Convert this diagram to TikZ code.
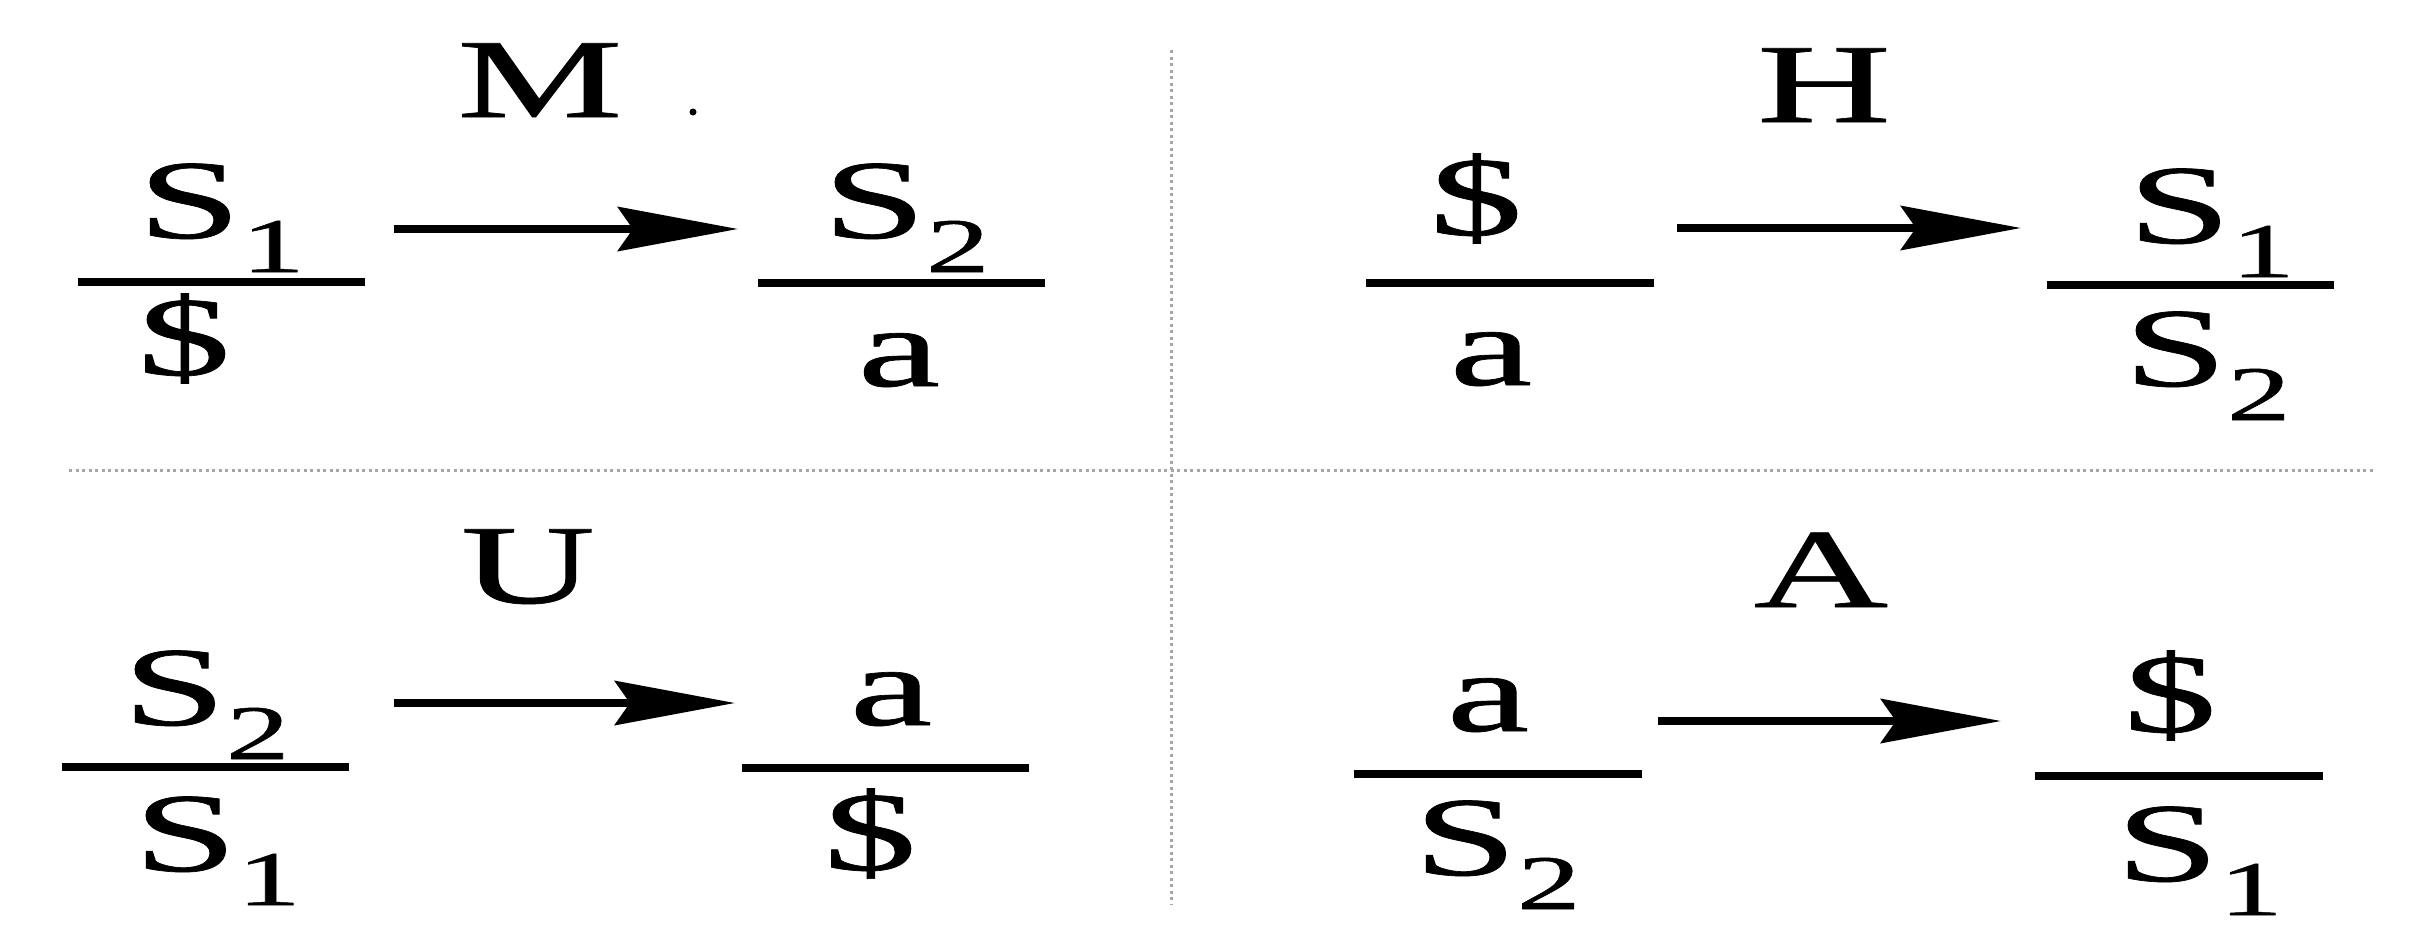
\documentclass[tikz,border=0pt]{standalone}
\usepackage{fontspec}
\setmainfont{Liberation Serif}[FakeBold=0.6]
\usetikzlibrary{arrows.meta}
\newcommand{\stx}[1]{\scalebox{1.65}[1]{#1}}
\newcommand{\subx}[1]{\raisebox{-0.34cm}{\fontsize{22}{22}\selectfont #1}}
\tikzset{
  txt/.style={inner sep=0, anchor=base, font=\fontsize{32}{32}\selectfont},
  stxt/.style={inner sep=0, anchor=base west, font=\fontsize{32}{32}\selectfont},
  barnode/.style={fill=black, inner sep=0, minimum height=0.085cm, minimum width=2.87cm},
  arr/.style={line width=0.08cm, -{Stealth[length=1.2cm, width=0.44cm, inset=0.15cm]}},
  sepline/.style={draw=gray!70, line width=0.03cm, densely dotted},
}
\begin{document}
\begin{tikzpicture}[x=0.01cm, y=-0.01cm]
\useasboundingbox[fill=white] (0,0) rectangle (2418,939);
% separators
\coordinate (vt) at (1171,50);
\coordinate (vb) at (1171,905);
\coordinate (hl) at (69,470);
\coordinate (hr) at (2375,470);
\draw[sepline] (vt) -- (vb);
\draw[sepline] (hl) -- (hr);

% ---- M ----
\node[txt] (M) at (540,117) {\stx{M}};
\node[circle, fill=black, inner sep=0, minimum size=0.07cm] (dot) at (693,112) {};
\node[stxt] (m1n) at (137,238) {\stx{S\subx{1}}};
\node[barnode] (m1b) at (221.5,282) {};
\node[txt] (m1d) at (184,375) {\stx{\$}};
\node[stxt] (m2n) at (822,238) {\stx{S\subx{2}}};
\node[barnode] (m2b) at (901.5,283) {};
\node[txt] (m2d) at (899,386) {\stx{a}};
\coordinate (ms) at (394,229);
\coordinate (me) at (738,229);
\draw[arr] (ms) -- (me);

% ---- H ----
\node[txt] (H) at (1824,122) {\stx{H}};
\node[txt] (h1n) at (1476,235) {\stx{\$}};
\node[barnode] (h1b) at (1510,283) {};
\node[txt] (h1d) at (1491,385) {\stx{a}};
\node[stxt] (h2n) at (2127,243) {\stx{S\subx{1}}};
\node[barnode] (h2b) at (2190.5,285) {};
\node[stxt] (h2d) at (2123,386) {\stx{S\subx{2}}};
\coordinate (hs) at (1677,228);
\coordinate (he) at (2021,228);
\draw[arr] (hs) -- (he);

% ---- U ----
\node[txt] (U) at (528,603) {\stx{U}};
\node[stxt] (u1n) at (122,725) {\stx{S\subx{2}}};
\node[barnode] (u1b) at (205.5,767) {};
\node[stxt] (u1d) at (133,871) {\stx{S\subx{1}}};
\node[txt] (u2n) at (891,725) {\stx{a}};
\node[barnode] (u2b) at (885.5,768) {};
\node[txt] (u2d) at (870,870) {\stx{\$}};
\coordinate (us) at (394,703);
\coordinate (ue) at (735,703);
\draw[arr] (us) -- (ue);

% ---- A ----
\node[txt] (A) at (1821,607) {\stx{A}};
\node[txt] (a1n) at (1488,731) {\stx{a}};
\node[barnode] (a1b) at (1498,774) {};
\node[stxt] (a1d) at (1413,875) {\stx{S\subx{2}}};
\node[txt] (a2n) at (2170,732) {\stx{\$}};
\node[barnode] (a2b) at (2179,776) {};
\node[stxt] (a2d) at (2115,881) {\stx{S\subx{1}}};
\coordinate (as) at (1658,721);
\coordinate (ae) at (2001,721);
\draw[arr] (as) -- (ae);
\end{tikzpicture}
\end{document}
